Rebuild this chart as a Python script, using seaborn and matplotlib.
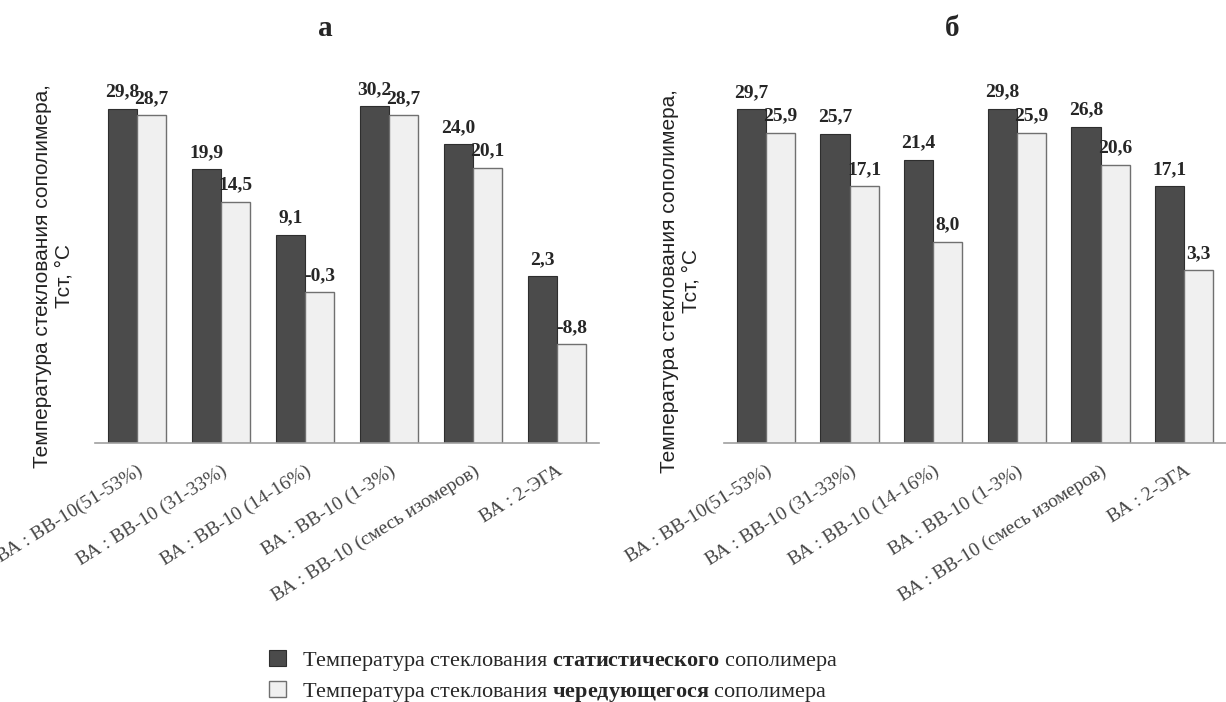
import matplotlib
matplotlib.use("Agg")
import matplotlib.pyplot as plt
from matplotlib.patches import Patch
import seaborn as sns
import pandas as pd

# Температура стеклования сополимеров: два набора (а, б),
# для каждого - статистический и чередующийся сополимер

categories = ["ВА : ВВ-10(51-53%)", "ВА : ВВ-10 (31-33%)", "ВА : ВВ-10 (14-16%)",
              "ВА : ВВ-10 (1-3%)", "ВА : ВВ-10 (смесь изомеров)", "ВА : 2-ЭГА"]
series = ["статистический", "чередующийся"]

stat_a = [29.8, 19.9, 9.1, 30.2, 24.0, 2.3]
alt_a = [28.7, 14.5, -0.3, 28.7, 20.1, -8.8]
stat_b = [29.7, 25.7, 21.4, 29.8, 26.8, 17.1]
alt_b = [25.9, 17.1, 8.0, 25.9, 20.6, 3.3]

panel_titles = ["а", "б"]
legend_labels = [r"Температура стеклования $\mathbf{статистического}$ сополимера",
                 r"Температура стеклования $\mathbf{чередующегося}$ сополимера"]
ylabel = "Температура стеклования сополимера,\nТст, °С"

base = -25  # столбцы растут от этой отметки, а не от нуля

dark = "#4b4b4b"
light = "#f0f0f0"

sns.set_style("white")
plt.rcParams['font.family'] = ['Liberation Serif', 'DejaVu Serif']
plt.rcParams['mathtext.fontset'] = 'custom'
plt.rcParams['mathtext.rm'] = 'Liberation Serif'
plt.rcParams['mathtext.bf'] = 'Liberation Serif:bold'

W, H = 1226, 702
fig = plt.figure(figsize=(W / 100, H / 100), dpi=100)

# положение осей в пикселях: left, baseline, width, ..., заголовок, подпись оси y
panels = [
    (95, 443, 504, stat_a, alt_a, (325, 28), (41, 276)),
    (724, 443, 502, stat_b, alt_b, (952, 29), (668, 281)),
]
plot_h = 366

for i, (left, bottom, width, stat, alt, tpos, ypos) in enumerate(panels):
    ax = fig.add_axes([left / W, (H - bottom) / H, width / W, plot_h / H])
    df = pd.DataFrame({
        "категория": categories * 2,
        "серия": [series[0]] * 6 + [series[1]] * 6,
        "T": stat + alt,
    })
    df["высота"] = df["T"] - base
    sns.barplot(data=df, x="категория", y="высота", hue="серия",
                palette=[dark, light], saturation=1, width=0.7, gap=0,
                edgecolor="#2e2e2e", linewidth=0.8, legend=False, ax=ax)
    for p in ax.containers[1]:
        p.set_edgecolor("#707070")
        p.set_linewidth(1.0)

    for cont, vals in zip(ax.containers, [stat, alt]):
        ax.bar_label(cont, labels=[f"{v:.1f}".replace(".", ",") for v in vals],
                     padding=6, fontsize=14, fontweight="bold")

    ax.set_xlim(-0.5, 5.5)
    ax.set_ylim(0, 60)
    ax.set_xlabel("")
    ax.set_ylabel("")
    ax.set_yticks([])
    for s in ["left", "top", "right"]:
        ax.spines[s].set_visible(False)
    ax.spines["bottom"].set_color("#a0a0a0")
    ax.spines["bottom"].set_linewidth(1.2)

    ax.set_xticks(range(6))
    ax.set_xticklabels(categories, rotation=32, ha="right", va="top",
                       rotation_mode="anchor", fontsize=14, color="#454545")
    ax.set_xticks([k - 0.5 for k in range(7)], minor=True)
    ax.tick_params(axis="x", which="major", length=0, pad=14)
    ax.tick_params(axis="x", which="minor", length=4, width=1, color="#a0a0a0")

    fig.text(tpos[0] / W, 1 - tpos[1] / H, panel_titles[i], ha="center", va="center",
             fontsize=21, fontweight="bold")
    fig.text(ypos[0] / W + 12 / W, 1 - ypos[1] / H, ylabel, rotation=90,
             ha="center", va="center", multialignment="center", linespacing=1.15,
             fontsize=15, family=["Liberation Sans", "DejaVu Sans"], color="#222222")

handles = [Patch(facecolor=dark, edgecolor="#2e2e2e", linewidth=0.8),
           Patch(facecolor=light, edgecolor="#707070", linewidth=1.0)]
fig.legend(handles, legend_labels, loc="upper left",
           bbox_to_anchor=(269 / W, 1 - 650 / H), frameon=False,
           prop={"family": "Liberation Serif", "size": 16},
           handlelength=0.75, handleheight=0.75, handletextpad=0.75,
           labelspacing=0.35, borderpad=0, borderaxespad=0)

fig.savefig("out.png", dpi=100)
